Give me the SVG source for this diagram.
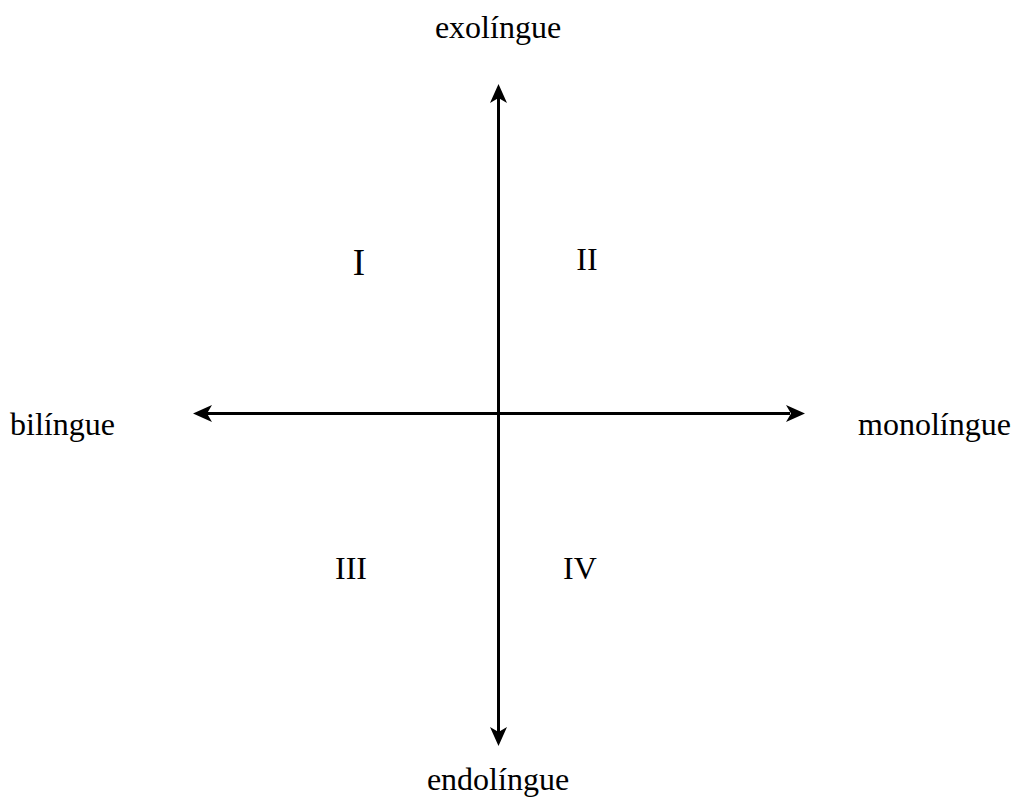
<svg xmlns="http://www.w3.org/2000/svg" width="1014" height="798" viewBox="0 0 1014 798">
<defs>
<style>
.t{font-family:"Liberation Serif","Times New Roman",serif;font-size:32px;fill:#000}
.ax{stroke:#000;stroke-width:3;fill:none}
.hd{fill:#000}
</style>
</defs>
<rect width="1014" height="798" fill="#fff"/>
<g id="connectors">
<line class="ax" x1="498.5" y1="98" x2="498.5" y2="732"/>
<line class="ax" x1="207" y1="413.5" x2="790" y2="413.5"/>
<path class="hd" d="M498.5,84 L507,103 L498.5,98 L490,103 Z"/>
<path class="hd" d="M498.5,746 L507,727 L498.5,732 L490,727 Z"/>
<path class="hd" d="M193,413.5 L212,405 L207,413.5 L212,422 Z"/>
<path class="hd" d="M805,413.5 L786,405 L791,413.5 L786,422 Z"/>
</g>
<g id="exolingue"><text class="t" x="498" y="38" text-anchor="middle">exolíngue</text></g>
<g id="endolingue"><text class="t" x="498" y="790" text-anchor="middle">endolíngue</text></g>
<g id="bilingue"><text class="t" x="10" y="435">bilíngue</text></g>
<g id="monolingue"><text class="t" x="858" y="435">monolíngue</text></g>
<g id="q1"><text class="t" x="359" y="275" text-anchor="middle" style="font-size:37px">I</text></g>
<g id="q2"><text class="t" x="587" y="270" text-anchor="middle">II</text></g>
<g id="q3"><text class="t" x="351" y="579" text-anchor="middle">III</text></g>
<g id="q4"><text class="t" x="580" y="579" text-anchor="middle">IV</text></g>
</svg>
